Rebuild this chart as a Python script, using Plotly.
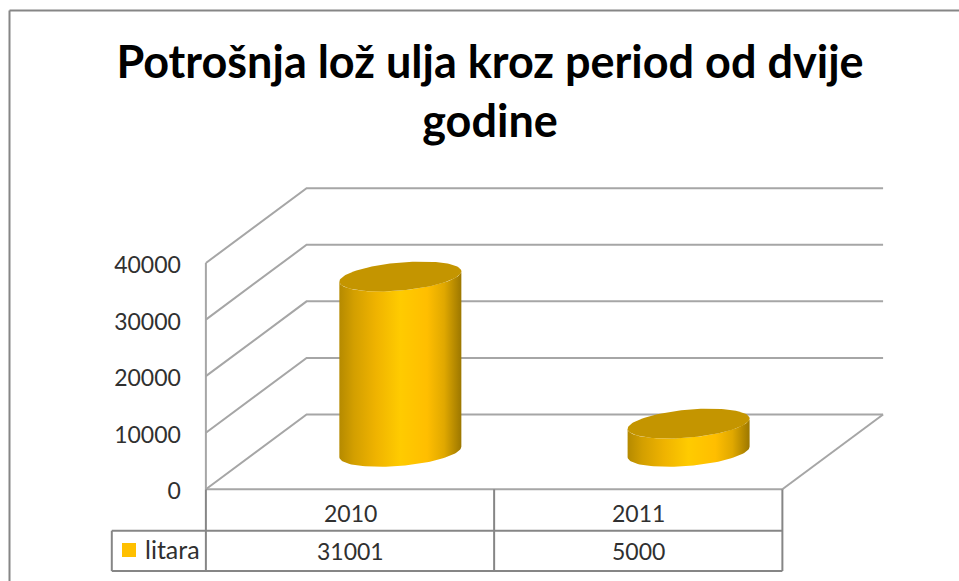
import numpy as np
import plotly.graph_objects as go

# ---- data ----
categories = ["2010", "2011"]
litara = [31001, 5000]
series_name = "litara"
y_ticks = [0, 10000, 20000, 30000, 40000]
title_text = "Potrošnja lož ulja kroz period od dvije<br>godine"

# ---- layout geometry (screen pixels) ----
W, H = 959, 581
PX_Y0, PX_Y40K = 489.3, 263.0
PX_COL0, PX_COL_STEP = 350.0, 288.25
DEPTH_X, DEPTH_Y = 100.7, 74.8
R_X, R_Y, SKEW = 61.0, 14.0, 5.2
GRID, DARK = "#A6A6A6", "#868686"
TOP = "#C49500"
TXT = "#303030"
FONT = "Lato"

U = 40000 / (PX_Y0 - PX_Y40K)          # litres per pixel
def xd(px):  # pixel -> category axis
    return (np.asarray(px, float) - PX_COL0) / PX_COL_STEP
def yd(py):  # pixel -> value axis
    return (PX_Y0 - np.asarray(py, float)) * U
DX = DEPTH_X / PX_COL_STEP

fig = go.Figure()

def lines(segments, color, width=2):
    xs, ys = [], []
    for seg in segments:
        for p in seg:
            xs.append(float(xd(p[0])))
            ys.append(float(yd(p[1])))
        xs.append(None)
        ys.append(None)
    fig.add_trace(go.Scatter(x=xs, y=ys, mode="lines", showlegend=False, hoverinfo="skip",
                             line=dict(color=color, width=width)))

# walls: one zig-zag per tick, then the floor's right edge
L = PX_COL0 - PX_COL_STEP / 2
R = L + 2 * PX_COL_STEP
grid_segments = []
for v in y_ticks:
    py = PX_Y0 - v / U
    grid_segments.append([(L, py), (L + DEPTH_X, py - DEPTH_Y), (R + DEPTH_X, py - DEPTH_Y)])
grid_segments.append([(R, PX_Y0), (R + DEPTH_X, PX_Y0 - DEPTH_Y)])
grid_segments.append([(L, PX_Y40K), (L, PX_Y0)])
grid_segments.append([(L, PX_Y0), (R, PX_Y0)])
lines(grid_segments, GRID)

# data table
ROW1, ROW2 = 530.7, 571.0
LEG_L = 111.8
lines([
    [(L, PX_Y0), (L, ROW2)],
    [(R, PX_Y0), (R, ROW2)],
    [(L + PX_COL_STEP, PX_Y0), (L + PX_COL_STEP, ROW2)],
    [(LEG_L, ROW1), (R, ROW1)],
    [(LEG_L, ROW2), (R, ROW2)],
    [(LEG_L, ROW1), (LEG_L, ROW2)],
], DARK)

# cylinders
body_scale = [[0, "#B58A00"], [0.12, "#D39F00"], [0.3, "#EFB300"], [0.5, "#FFCB00"],
              [0.72, "#FFBE00"], [0.86, "#E0A800"], [1, "#9C7700"]]
for i, v in enumerate(litara):
    cx = i + 0.5 * DX
    base = yd(PX_Y0 - 0.5 * DEPTH_Y)
    rx = R_X / PX_COL_STEP
    def ellipse(t, y0):
        return cx + rx * np.cos(t), y0 + (SKEW * np.cos(t) - R_Y * np.sin(t)) * U
    t1 = np.linspace(0, np.pi, 60)
    bx, by = ellipse(t1, base)
    tx, ty = ellipse(t1[::-1], base + v)
    fig.add_trace(go.Scatter(x=np.r_[bx, tx], y=np.r_[by, ty], mode="lines", fill="toself",
                             line=dict(width=0), showlegend=False, hoverinfo="skip",
                             fillgradient=dict(type="horizontal", colorscale=body_scale)))
    t2 = np.linspace(0, 2 * np.pi, 120)
    cx_, cy_ = ellipse(t2, base + v)
    fig.add_trace(go.Scatter(x=cx_, y=cy_, mode="lines", fill="toself", fillcolor=TOP,
                             line=dict(width=0, color=TOP), showlegend=False, hoverinfo="skip"))

# legend key in the table
fig.add_trace(go.Scatter(x=[float(xd(129))], y=[float(yd(550))], mode="markers",
                         marker=dict(symbol="square", size=14, color="#FFC000"),
                         showlegend=False, hoverinfo="skip", name=series_name))

ann = [dict(x=float(xd(143)), y=float(yd(549)), text=series_name, xanchor="left",
            font=dict(family=FONT, size=25, color=TXT))]
for i, (c, v) in enumerate(zip(categories, litara)):
    ann.append(dict(x=i, y=float(yd(513)), text=c))
    ann.append(dict(x=i, y=float(yd(551)), text=str(v)))
for a in ann:
    a.setdefault("font", dict(family=FONT, size=23, color=TXT))
    a.update(showarrow=False, yanchor="middle")

fig.update_layout(
    width=W, height=H, margin=dict(l=0, r=0, t=0, b=0),
    paper_bgcolor="white", plot_bgcolor="white", showlegend=False,
    title=dict(text=title_text, x=490 / W, xanchor="center", y=1 - 78 / H, yanchor="top",
               font=dict(family=FONT, size=45, color="black", weight="bold")),
    xaxis=dict(range=[float(xd(0)), float(xd(W))], visible=False, fixedrange=True),
    yaxis=dict(range=[float(yd(H)), float(yd(0))], tickmode="array", tickvals=y_ticks,
               ticktext=[str(t) for t in y_ticks], showgrid=False, zeroline=False, showline=False,
               anchor="free", position=L / W, ticks="", ticklabelstandoff=25, ticklabelshift=2,
               tickfont=dict(family=FONT, size=23, color=TXT), fixedrange=True),
    annotations=ann,
    shapes=[dict(type="line", xref="paper", yref="paper", x0=9.5 / W, x1=1, y0=1 - 10.5 / H, y1=1 - 10.5 / H,
                 line=dict(color=DARK, width=2)),
            dict(type="line", xref="paper", yref="paper", x0=9.5 / W, x1=9.5 / W, y0=0, y1=1 - 10.5 / H,
                 line=dict(color=DARK, width=2))],
)
fig.write_html("out.html", config=dict(displayModeBar=False),
               post_script="document.body.style.margin='0';document.body.style.overflow='hidden';")
